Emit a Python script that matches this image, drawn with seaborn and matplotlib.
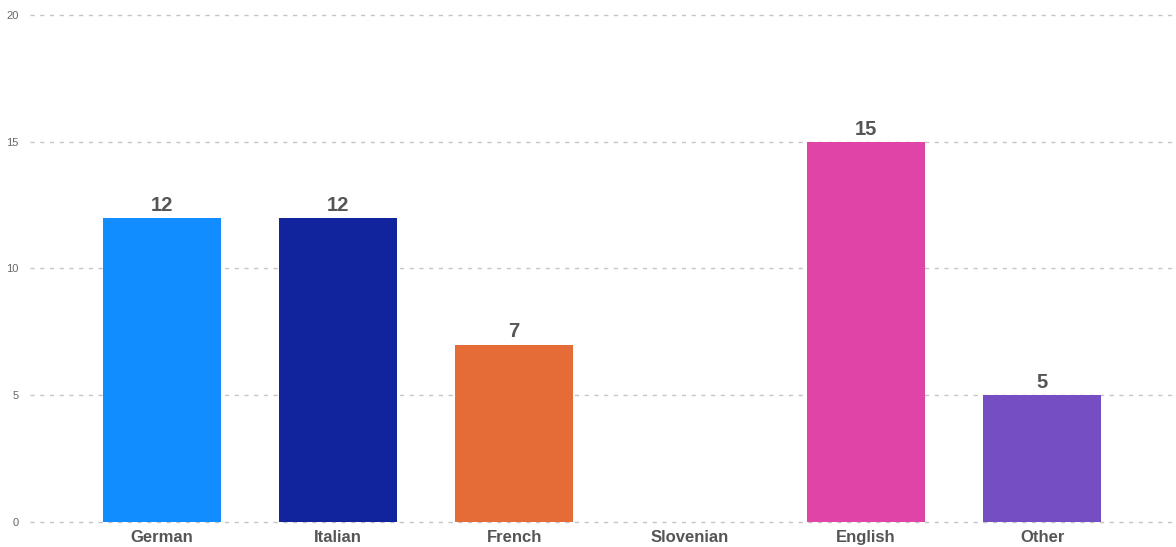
import matplotlib
matplotlib.use("Agg")
import matplotlib.pyplot as plt
import seaborn as sns
import pandas as pd

languages = ["German", "Italian", "French", "Slovenian", "English", "Other"]
counts = [12, 12, 7, 0, 15, 5]
colors = ["#118DFF", "#12239E", "#E66C37", "#6B007B", "#E044A7", "#744EC2"]
y_ticks = [0, 5, 10, 15, 20]

sns.set_theme(style="white")
plt.rcParams["font.family"] = ["Liberation Sans", "DejaVu Sans"]

df = pd.DataFrame({"language": languages, "count": counts})

fig = plt.figure(figsize=(11.76, 5.47), dpi=100)
ax = fig.add_axes([0.0255, 0.0457, 0.973, 0.927])

sns.barplot(data=df, x="language", y="count", hue="language",
            palette=colors, width=0.67, legend=False, ax=ax,
            saturation=1, linewidth=0)

ax.set_ylim(0, 20)
ax.set_xlim(-0.75, 5.75)
ax.set_yticks(y_ticks)
ax.set_yticklabels([str(v) for v in y_ticks], fontsize=8, color="#666666")
ax.grid(axis="y", linestyle=(0, (3, 4)), color="#c4c4c4", linewidth=1)
for gl in ax.get_ygridlines():
    gl.set_clip_on(False)
ax.set_axisbelow(True)
for s in ax.spines.values():
    s.set_visible(False)
ax.tick_params(axis="both", length=0)
ax.tick_params(axis="x", pad=6)
ax.tick_params(axis="y", pad=8)
ax.set_xlabel("")
ax.set_ylabel("")
for lbl in ax.get_xticklabels():
    lbl.set_fontweight("bold")
    lbl.set_fontsize(12)
    lbl.set_color("#555555")

for i, v in enumerate(counts):
    if v > 0:
        ax.text(i, v + 0.12, str(v), ha="center", va="bottom",
                fontsize=14.5, fontweight="bold", color="#555555")

fig.savefig("out.png", dpi=100)
